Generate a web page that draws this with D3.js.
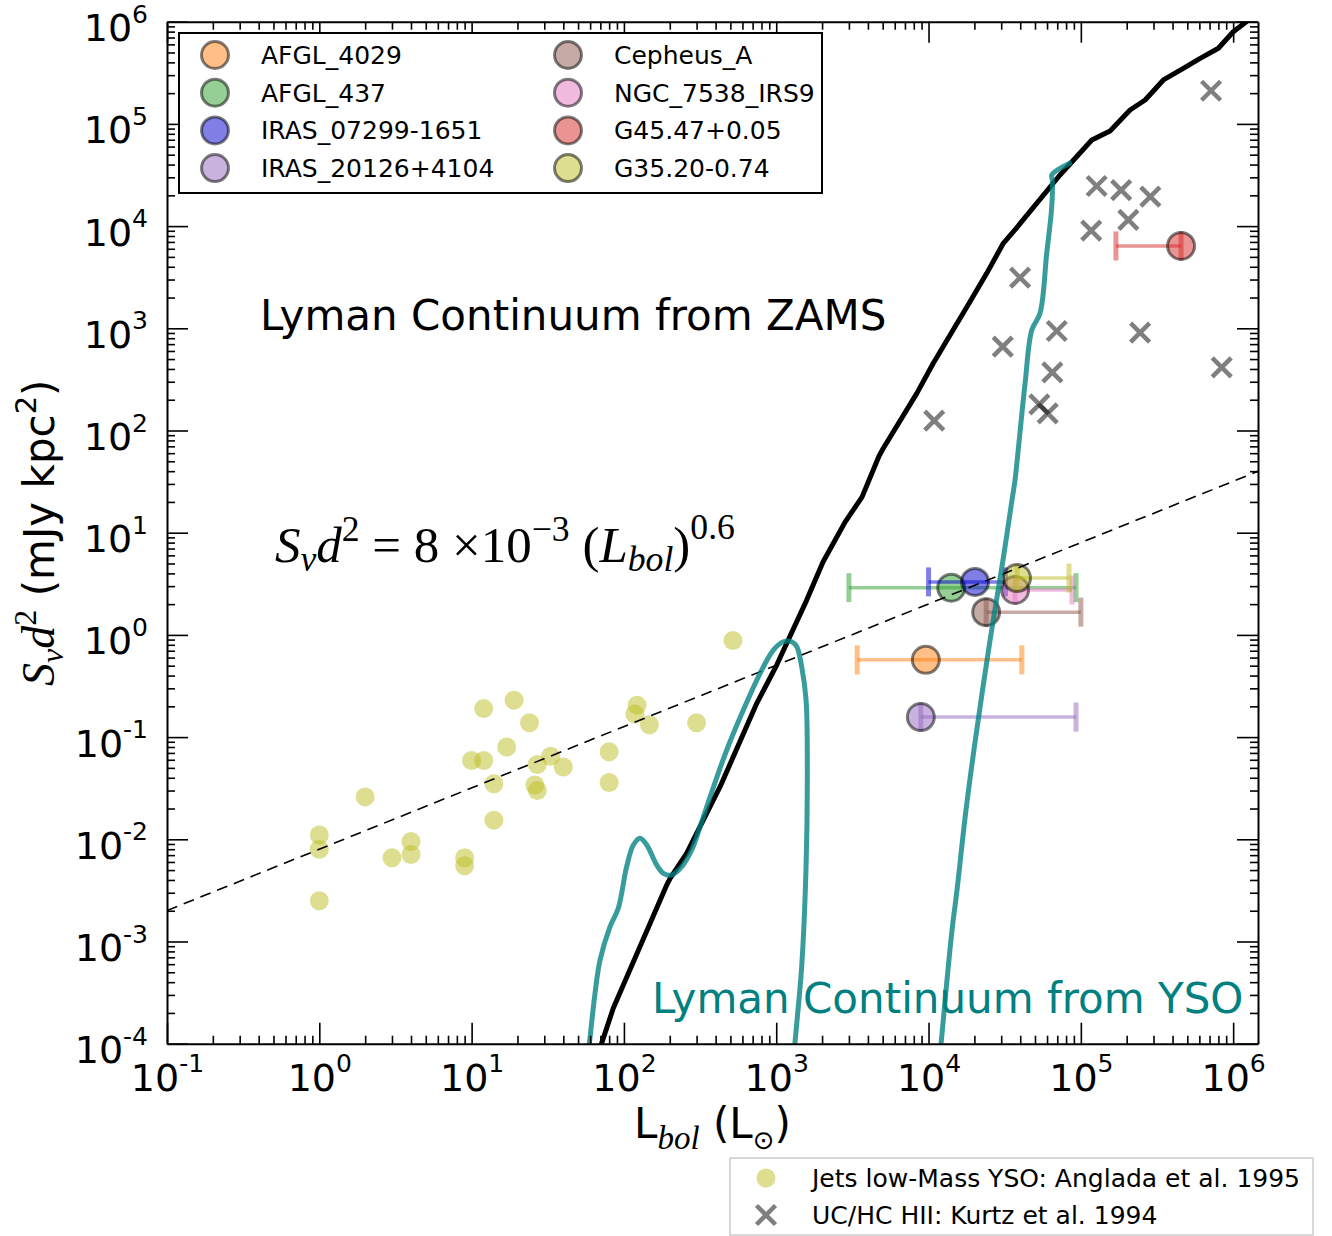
<!DOCTYPE html>
<html>
<head>
<meta charset="utf-8">
<script src="https://cdn.jsdelivr.net/npm/d3@7"></script>
<style>
  body { margin: 0; background: #fff; }
  svg { display: block; }
</style>
</head>
<body>
<svg id="chart" width="1332" height="1236"></svg>
<script>
// ---- Data ---------------------------------------------------------------
// Jets from low-mass YSOs (Anglada et al. 1995): L_bol [Lsun], S_nu d^2 [mJy kpc^2]
const angladaL = [1.0, 1.0, 1.0, 2.0, 3.0, 4.0, 4.0, 9.0, 9.0, 10, 12, 12, 14, 14, 17, 19, 24, 27, 26, 27, 33, 40, 80, 80, 122, 118, 147, 300, 520];
const angladaS = [0.011, 0.008, 0.0025, 0.026, 0.0066, 0.0095, 0.0071, 0.0066, 0.0055, 0.059, 0.19, 0.059, 0.035, 0.0154, 0.080, 0.23, 0.138, 0.054, 0.034, 0.030, 0.065, 0.051, 0.072, 0.036, 0.205, 0.168, 0.132, 0.138, 0.88];

// UC/HC HII regions (Kurtz et al. 1994)
const kurtzL = [7.16e5, 1.27e5, 1.84e5, 2.86e5, 2.05e5, 1.17e5, 3.99e4, 6.95e4, 2.45e5, 3.07e4, 6.50e4, 8.41e5, 5.34e4, 6.06e4, 1.09e4];
const kurtzS = [2.11e5, 2.47e4, 2.25e4, 1.94e4, 1.15e4, 9.02e3, 3.13e3, 941, 906, 661, 371, 415, 180, 147, 125];

// Individual sources with luminosity ranges
const sourceNames  = ["AFGL_4029", "AFGL_437", "IRAS_07299-1651", "IRAS_20126+4104", "Cepheus_A", "NGC_7538_IRS9", "G45.47+0.05", "G35.20-0.74"];
const sourceColors = ["#ff7f0e", "#2ca02c", "#0000cd", "#9467bd", "#8c564b", "#e377c2", "#d62728", "#bcbd22"];
const sourceL   = [9.6e3, 1.41e4, 2.02e4, 8.9e3, 2.39e4, 3.70e4, 4.55e5, 3.81e4];
const sourceS   = [0.57, 2.9, 3.3, 0.157, 1.67, 2.75, 6.4e3, 3.6];
const sourceLlo = [3.4e3, 3.0e3, 1.0e4, 8.9e3, 2.39e4, 3.70e4, 1.70e5, 3.81e4];
const sourceLhi = [4.1e4, 9.3e4, 3.2e4, 9.3e4, 1.0e5, 8.75e4, 4.55e5, 8.36e4];

// Lyman continuum from ZAMS stars
const zamsL = [67.8, 71.4, 85.1, 191, 201, 258, 428, 745, 1007, 1585, 2028, 2831, 3656, 4732, 5047, 8375, 10740, 18710, 24100, 30970, 36060, 51290, 72950, 118000, 155600, 210400, 264200, 348300, 471000, 591600, 799800, 1002000, 1197000, 1393000];
const zamsS = [7.9e-5, 1.01e-4, 2.22e-4, 3.57e-3, 4.15e-3, 7.29e-3, 0.0327, 0.214, 0.507, 2.19, 5.16, 12.7, 22.3, 56.4, 67.0, 231, 455, 1820, 3450, 6790, 8810, 16700, 31600, 69500, 85300, 136800, 171400, 269200, 349900, 428500, 549500, 798000, 977000, 1175000];

// Lyman continuum from accreting YSOs
const ysoL = [57.3, 59.3, 64.6, 69.7, 81.1, 91.8, 104.2, 115.3, 127.6, 141.3, 164.1, 181.6, 206.1, 239.9, 278.6, 316.2, 368.1, 473.2, 608.1, 783.4, 957.3, 1114, 1265, 1365, 1469, 1570, 1600, 1570, 1469, 1327, 1288, 11530, 12080, 13030, 14260, 15380, 17620, 20510, 25350, 30830, 35320, 36980, 38900, 43050, 47640, 53950, 59700, 64420, 65010, 64420, 87100];
const ysoS = [6.92e-5, 1.01e-4, 3.11e-4, 6.59e-4, 1.40e-3, 2.11e-3, 5.40e-3, 8.79e-3, 0.01023, 8.79e-3, 5.61e-3, 4.65e-3, 4.48e-3, 5.40e-3, 7.85e-3, 0.01327, 0.0261, 0.0748, 0.184, 0.421, 0.711, 0.857, 0.857, 0.767, 0.489, 0.231, 0.0513, 5.40e-3, 5.66e-4, 1.01e-4, 5.53e-5, 5.53e-5, 1.0e-4, 3.35e-4, 1.29e-3, 3.19e-3, 0.0194, 0.105, 0.891, 5.41, 20.9, 32.8, 67.0, 290, 962, 1403, 5420, 15490, 28250, 31620, 42070];

// Power-law fit S d^2 = 8e-3 * L^0.6
const fitCoef = 8e-3;
const fitIndex = 0.6;

// Decade exponents used for tick labels
const xTickExps = [-1, 0, 1, 2, 3, 4, 5, 6];
const yTickExps = [-4, -3, -2, -1, 0, 1, 2, 3, 4, 5, 6];

// ---- Layout -------------------------------------------------------------
const plot = { left: 167, right: 1258, top: 21.7, bottom: 1043.7 };
const SANS = "DejaVu Sans";
const SERIF = "Liberation Serif";

const x = d3.scaleLog().domain([0.1, 1.456e6]).range([plot.left, plot.right]);
const y = d3.scaleLog().domain([1e-4, 1e6]).range([plot.bottom, plot.top]);

const svg = d3.select("#chart");
svg.append("rect").attr("width", 1332).attr("height", 1236).attr("fill", "#fff");

svg.append("defs").append("clipPath").attr("id", "plotClip")
  .append("rect")
  .attr("x", plot.left).attr("y", plot.top)
  .attr("width", plot.right - plot.left).attr("height", plot.bottom - plot.top);

function minorValues(scale) {
  const [lo, hi] = scale.domain();
  const out = [];
  for (let e = Math.floor(Math.log10(lo)); e <= Math.ceil(Math.log10(hi)); e++) {
    for (let m = 2; m <= 9; m++) {
      const v = m * Math.pow(10, e);
      if (v >= lo && v <= hi) out.push(v);
    }
  }
  return out;
}
const xMajor = xTickExps.map(e => Math.pow(10, e));
const yMajor = yTickExps.map(e => Math.pow(10, e));
const xMinor = minorValues(x);
const yMinor = minorValues(y);

// ---- Data layers --------------------------------------------------------
const dataLayer = svg.append("g");

// Anglada jets
dataLayer.append("g").selectAll("circle")
  .data(angladaL.map((L, i) => [L, angladaS[i]]))
  .join("circle")
  .attr("cx", d => x(d[0])).attr("cy", d => y(d[1]))
  .attr("r", 9.5)
  .attr("fill", "#bcbd22").attr("fill-opacity", 0.5);

// Kurtz UC/HC HII regions
const xs = 9.5;
dataLayer.append("g").selectAll("path")
  .data(kurtzL.map((L, i) => [L, kurtzS[i]]))
  .join("path")
  .attr("d", d => {
    const cx = x(d[0]), cy = y(d[1]);
    return `M${cx - xs},${cy - xs}L${cx + xs},${cy + xs}M${cx - xs},${cy + xs}L${cx + xs},${cy - xs}`;
  })
  .attr("stroke", "#000").attr("stroke-opacity", 0.5)
  .attr("stroke-width", 4.5).attr("fill", "none");

// Sources: luminosity range bars, caps and markers
sourceNames.forEach((name, i) => {
  const g = dataLayer.append("g");
  const cy = y(sourceS[i]);
  const x0 = x(sourceLlo[i]), x1 = x(sourceLhi[i]);
  g.append("line")
    .attr("x1", x0).attr("x2", x1).attr("y1", cy).attr("y2", cy)
    .attr("stroke", sourceColors[i]).attr("stroke-opacity", 0.5).attr("stroke-width", 3.5);
  [x0, x1].forEach(cx => {
    g.append("line")
      .attr("x1", cx).attr("x2", cx).attr("y1", cy - 14.5).attr("y2", cy + 14.5)
      .attr("stroke", sourceColors[i]).attr("stroke-opacity", 0.5).attr("stroke-width", 5);
  });
  g.append("circle")
    .attr("cx", x(sourceL[i])).attr("cy", cy).attr("r", 13.5)
    .attr("fill", sourceColors[i]).attr("fill-opacity", 0.5)
    .attr("stroke", "#000").attr("stroke-opacity", 0.5).attr("stroke-width", 3);
});

// Curves (clipped to the axes)
const curves = svg.append("g").attr("clip-path", "url(#plotClip)");

const fitL = x.domain();
curves.append("path")
  .attr("d", d3.line().x(d => x(d)).y(d => y(fitCoef * Math.pow(d, fitIndex)))(fitL))
  .attr("fill", "none").attr("stroke", "#000")
  .attr("stroke-width", 1.6).attr("stroke-dasharray", "11,7");

curves.append("path")
  .attr("d", d3.line().x(d => x(d[0])).y(d => y(d[1]))(zamsL.map((L, i) => [L, zamsS[i]])))
  .attr("fill", "none").attr("stroke", "#000").attr("stroke-width", 5)
  .attr("stroke-linejoin", "round");

curves.append("path")
  .attr("d", d3.line().curve(d3.curveCatmullRom.alpha(0.5))
    .x(d => x(d[0])).y(d => y(d[1]))(ysoL.map((L, i) => [L, ysoS[i]])))
  .attr("fill", "none").attr("stroke", "#008080").attr("stroke-opacity", 0.78)
  .attr("stroke-width", 5).attr("stroke-linejoin", "round");

// ---- Axes ---------------------------------------------------------------
function styleAxis(g) {
  g.select(".domain").attr("stroke", "#000").attr("stroke-width", 2);
  g.selectAll(".tick line").attr("stroke", "#000").attr("stroke-width", 1.6);
}
function powerLabel(textSel) {
  textSel.each(function (d) {
    const t = d3.select(this);
    const e = Math.round(Math.log10(d));
    t.text(null);
    t.append("tspan").text("10");
    t.append("tspan").attr("font-size", 25).attr("dy", -18.5).text(String(e));
  });
}

const axes = svg.append("g").attr("font-family", SANS);

// bottom
const gB = axes.append("g").attr("transform", `translate(0,${plot.bottom})`)
  .call(d3.axisBottom(x).tickValues(xMajor).tickSizeInner(-21).tickSizeOuter(0).tickPadding(0));
gB.selectAll(".tick text")
  .attr("y", 47).attr("dy", null).attr("font-size", 38).attr("fill", "#000")
  .attr("font-family", SANS).call(powerLabel);
styleAxis(gB);
const gBm = axes.append("g").attr("transform", `translate(0,${plot.bottom})`)
  .call(d3.axisBottom(x).tickValues(xMinor).tickSizeInner(-8).tickSizeOuter(0).tickFormat(""));
styleAxis(gBm); gBm.select(".domain").remove();

// top
const gT = axes.append("g").attr("transform", `translate(0,${plot.top})`)
  .call(d3.axisTop(x).tickValues(xMajor).tickSizeInner(-21).tickSizeOuter(0).tickFormat(""));
styleAxis(gT);
const gTm = axes.append("g").attr("transform", `translate(0,${plot.top})`)
  .call(d3.axisTop(x).tickValues(xMinor).tickSizeInner(-8).tickSizeOuter(0).tickFormat(""));
styleAxis(gTm); gTm.select(".domain").remove();

// left
const gL = axes.append("g").attr("transform", `translate(${plot.left},0)`)
  .call(d3.axisLeft(y).tickValues(yMajor).tickSizeInner(-21).tickSizeOuter(0).tickPadding(0));
gL.selectAll(".tick text")
  .attr("x", -19).attr("y", 19).attr("dy", null).attr("font-size", 38).attr("fill", "#000")
  .attr("font-family", SANS).call(powerLabel);
styleAxis(gL);
const gLm = axes.append("g").attr("transform", `translate(${plot.left},0)`)
  .call(d3.axisLeft(y).tickValues(yMinor).tickSizeInner(-8).tickSizeOuter(0).tickFormat(""));
styleAxis(gLm); gLm.select(".domain").remove();

// right
const gR = axes.append("g").attr("transform", `translate(${plot.right},0)`)
  .call(d3.axisRight(y).tickValues(yMajor).tickSizeInner(-21).tickSizeOuter(0).tickFormat(""));
styleAxis(gR);
const gRm = axes.append("g").attr("transform", `translate(${plot.right},0)`)
  .call(d3.axisRight(y).tickValues(yMinor).tickSizeInner(-8).tickSizeOuter(0).tickFormat(""));
styleAxis(gRm); gRm.select(".domain").remove();

// ---- Axis titles --------------------------------------------------------
const xt = svg.append("text")
  .attr("x", (plot.left + plot.right) / 2).attr("y", 1138)
  .attr("text-anchor", "middle").attr("font-family", SANS).attr("font-size", 42).attr("fill", "#000");
xt.append("tspan").text("L");
xt.append("tspan").attr("font-family", SERIF).attr("font-style", "italic").attr("font-size", 33).attr("dy", 11).text("bol");
xt.append("tspan").attr("dy", -11).text(" (L");
xt.append("tspan").attr("font-size", 26).attr("dy", 11).text("\u2299");
xt.append("tspan").attr("dy", -11).text(")");

const yt = svg.append("text")
  .attr("transform", `translate(54,${(plot.top + plot.bottom) / 2}) rotate(-90)`)
  .attr("text-anchor", "middle").attr("font-family", SANS).attr("font-size", 42).attr("fill", "#000");
yt.append("tspan").attr("font-family", SERIF).attr("font-style", "italic").attr("font-size", 46).text("S");
yt.append("tspan").attr("font-family", SERIF).attr("font-style", "italic").attr("font-size", 32).attr("dy", 9).text("\u03bd");
yt.append("tspan").attr("font-family", SERIF).attr("font-style", "italic").attr("font-size", 46).attr("dy", -9).text("d");
yt.append("tspan").attr("font-family", SERIF).attr("font-size", 32).attr("dy", -18).text("2");
yt.append("tspan").attr("dy", 18).text(" (mJy kpc");
yt.append("tspan").attr("font-size", 29).attr("dy", -18).text("2");
yt.append("tspan").attr("dy", 18).text(")");

// ---- Annotations --------------------------------------------------------
svg.append("text").attr("x", 260).attr("y", 330)
  .attr("font-family", SANS).attr("font-size", 42).attr("fill", "#000")
  .text("Lyman Continuum from ZAMS");
svg.append("text").attr("x", 652).attr("y", 1013)
  .attr("font-family", SANS).attr("font-size", 42).attr("fill", "#008080")
  .text("Lyman Continuum from YSO");

// fit formula
function drawFormula(F) {
  const t = svg.append("text").attr("x", 275).attr("y", 562)
    .attr("font-family", SERIF).attr("font-size", F).attr("fill", "#000");
  const it = s => t.append("tspan").attr("font-style", "italic").text(s);
  it("S");
  t.append("tspan").attr("font-style", "italic").attr("font-size", 0.7 * F).attr("dy", 0.17 * F).text("\u03bd");
  t.append("tspan").attr("font-style", "italic").attr("dy", -0.17 * F).text("d");
  t.append("tspan").attr("font-size", 0.7 * F).attr("dy", -0.42 * F).text("2");
  t.append("tspan").attr("dy", 0.42 * F).text(" = 8 \u00d710");
  t.append("tspan").attr("font-size", 0.7 * F).attr("dy", -0.42 * F).text("\u22123");
  t.append("tspan").attr("dy", 0.42 * F).text(" (");
  it("L");
  t.append("tspan").attr("font-style", "italic").attr("font-size", 0.7 * F).attr("dy", 0.17 * F).text("bol");
  t.append("tspan").attr("dy", -0.17 * F).text(")");
  t.append("tspan").attr("font-size", 0.7 * F).attr("dy", -0.45 * F).text("0.6");
  return t;
}
let formula = drawFormula(50);
const fw = formula.node().getBBox().width;
formula.remove();
formula = drawFormula(50 * 460 / fw);

// ---- Legends ------------------------------------------------------------
const leg = svg.append("g");
leg.append("rect").attr("x", 179).attr("y", 33).attr("width", 643).attr("height", 160)
  .attr("fill", "#fff").attr("stroke", "#000").attr("stroke-width", 2);
const legColX = [215, 568];
sourceNames.forEach((name, i) => {
  const col = Math.floor(i / 4), row = i % 4;
  const cx = legColX[col], cy = 55 + row * 37.7;
  leg.append("circle").attr("cx", cx).attr("cy", cy).attr("r", 13.5)
    .attr("fill", sourceColors[i]).attr("fill-opacity", 0.5)
    .attr("stroke", "#000").attr("stroke-opacity", 0.5).attr("stroke-width", 3);
  leg.append("text").attr("x", cx + 46).attr("y", cy + 9)
    .attr("font-family", SANS).attr("font-size", 25).attr("fill", "#000").text(name);
});

const leg2 = svg.append("g");
leg2.append("rect").attr("x", 730).attr("y", 1158).attr("width", 583).attr("height", 77)
  .attr("fill", "#fff").attr("stroke", "#cccccc").attr("stroke-width", 1.5);
leg2.append("circle").attr("cx", 766).attr("cy", 1178).attr("r", 9.5)
  .attr("fill", "#bcbd22").attr("fill-opacity", 0.5);
leg2.append("path")
  .attr("d", `M${766 - xs},${1215 - xs}L${766 + xs},${1215 + xs}M${766 - xs},${1215 + xs}L${766 + xs},${1215 - xs}`)
  .attr("stroke", "#000").attr("stroke-opacity", 0.5).attr("stroke-width", 4.5).attr("fill", "none");
leg2.append("text").attr("x", 812).attr("y", 1187)
  .attr("font-family", SANS).attr("font-size", 25).attr("fill", "#000")
  .text("Jets low-Mass YSO: Anglada et al. 1995");
leg2.append("text").attr("x", 812).attr("y", 1224)
  .attr("font-family", SANS).attr("font-size", 25).attr("fill", "#000")
  .text("UC/HC HII: Kurtz et al. 1994");
</script>
</body>
</html>
